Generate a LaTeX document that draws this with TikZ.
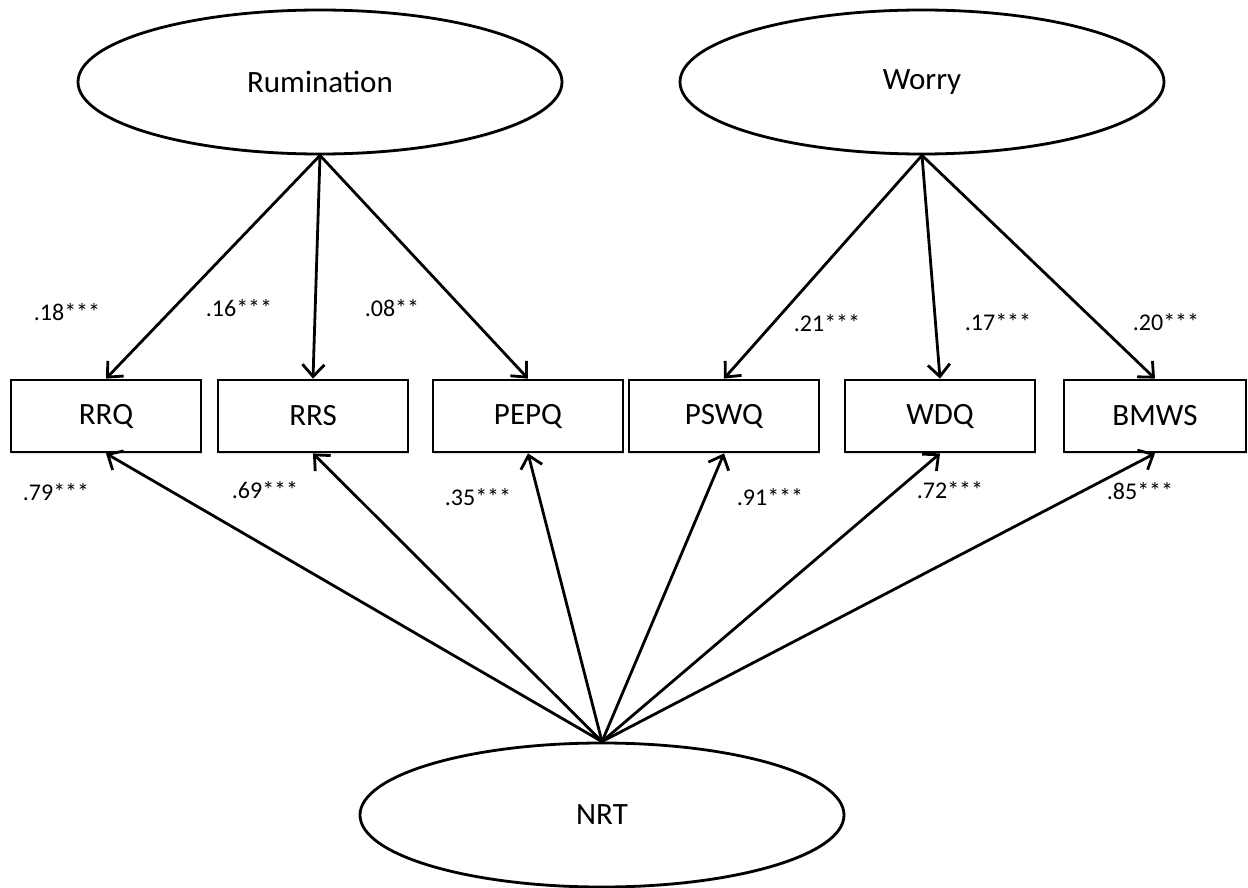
\documentclass[tikz,border=0pt]{standalone}
\usepackage{fontspec}
\setmainfont{Carlito}
\usetikzlibrary{shapes.geometric, arrows.meta, shadows}

\begin{document}
\begin{tikzpicture}[x=0.5pt,y=-0.5pt,inner sep=0pt,line width=1.4pt,>={Straight Barb[length=6pt,width=11pt]},
  shade/.style={drop shadow={opacity=0.25,shadow xshift=0.6pt,shadow yshift=-0.8pt}},
  latent/.style={draw,ellipse,fill=white,shade,minimum width=242pt,minimum height=72pt,font=\fontsize{15.5}{17}\selectfont},
  obs/.style={draw,rectangle,fill=white,shade,minimum width=95pt,minimum height=36pt,font=\fontsize{15.5}{17}\selectfont},
  coef/.style={font=\fontsize{12}{14}\selectfont}]
\useasboundingbox (0,0) rectangle (1248,888);
\draw node [latent] (Rum) at (320,82)  {Rumination};
\draw node [latent] (Wor) at (922,82)  {Worry};
\draw node [latent] (NRT) at (602,815) {NRT};
\draw node [obs] (RRQ)  at (106,416)  {RRQ};
\draw node [obs] (RRS)  at (313,416)  {RRS};
\draw node [obs] (PEPQ) at (528,416)  {PEPQ};
\draw node [obs] (PSWQ) at (724,416)  {PSWQ};
\draw node [obs] (WDQ)  at (940,416)  {WDQ};
\draw node [obs,minimum width=91pt] (BMWS) at (1155,416) {BMWS};
\foreach \b in {RRQ,RRS,PEPQ}
  \draw [->] (Rum.south) -- (\b.north);
\foreach \b in {PSWQ,WDQ,BMWS}
  \draw [->] (Wor.south) -- (\b.north);
\foreach \b in {RRQ,RRS,PEPQ,PSWQ,WDQ,BMWS}
  \draw [->] (NRT.north) -- (\b.south);
\node [coef] (l1) at (67,312)   {.18***};
\node [coef] (l2) at (239,308)  {.16***};
\node [coef] (l3) at (392,308)  {.08**};
\node [coef] (l4) at (827,323)  {.21***};
\node [coef] (l5) at (998,322)  {.17***};
\node [coef] (l6) at (1166,322) {.20***};
\node [coef] (m1) at (56,492)   {.79***};
\node [coef] (m2) at (265,490)  {.69***};
\node [coef] (m3) at (478,497)  {.35***};
\node [coef] (m4) at (770,497)  {.91***};
\node [coef] (m5) at (950,490)  {.72***};
\node [coef] (m6) at (1140,491) {.85***};
\end{tikzpicture}
\end{document}
